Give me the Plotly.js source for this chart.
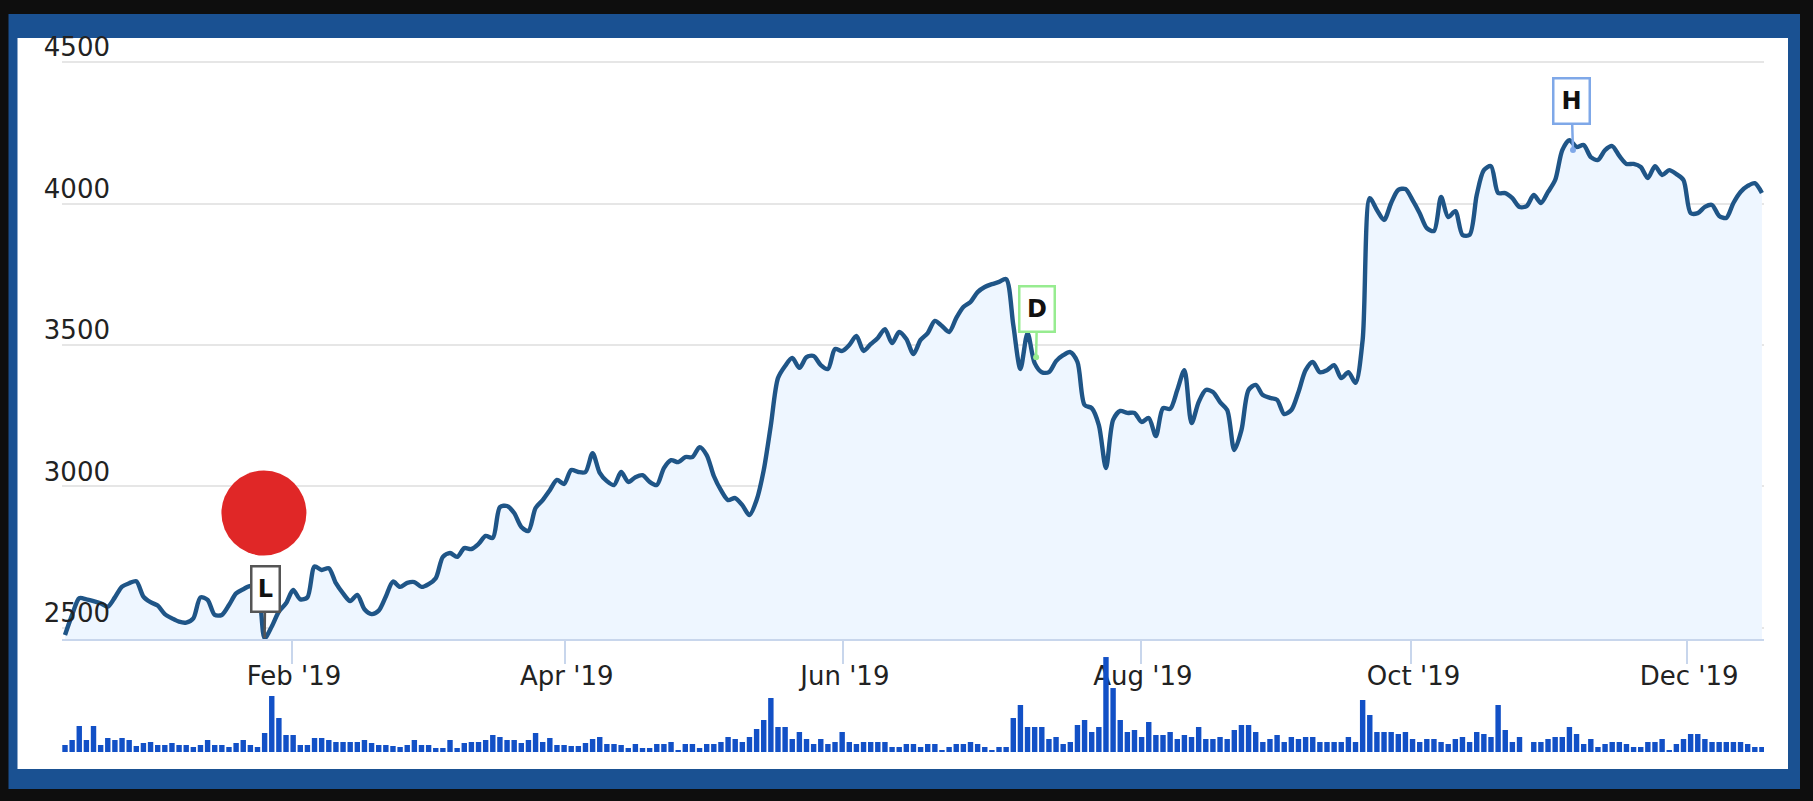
<!DOCTYPE html>
<html>
<head>
<meta charset="utf-8">
<script src="https://cdn.plot.ly/plotly-3.0.1.min.js"></script>
<style>html,body{margin:0;padding:0;background:#0e0e0e;overflow:hidden}#chart{width:1813px;height:801px}</style>
</head>
<body>
<div id="chart"></div>
<script>
// Closing value per trading session
const closeValues = [
2475,2546,2605,2601,2595,2587,2575,2608,2646,2658,2665,2611,2591,2579,2549,2534,2522,2519,2534,2608,2599,2546,2546,2581,2622,2637,2648,2640,2464,2505,2558,2587,2634,2601,2608,2717,2705,2711,2658,2622,2595,2617,2566,2549,2561,2611,2664,
2645,2659,2662,2645,2655,2676,2751,2765,2751,2782,2779,2797,2825,2818,2927,2931,2906,2857,2843,2924,2952,2987,3023,3009,3058,3051,3051,3118,3048,3019,3005,3051,3016,3033,3040,3016,3005,3065,3093,3086,3104,3104,3139,3111,3037,2987,2952,2959,2934,2899,2952,3058,
3217,3383,3426,3454,3419,3457,3461,3429,3415,3486,3479,3500,3532,3479,3503,3525,3556,3507,3546,3521,3468,3518,3542,3585,3567,3546,3595,3634,3652,3687,3705,3715,3723,3733,3571,3415,3542,3436,3404,3404,3443,3464,3475,3440,3288,3277,3217,3065,3235,3267,3260,3260,3228,
3242,3178,3277,3274,3341,3411,3224,3298,3341,3334,3298,3270,3129,3199,3341,3359,3323,3313,3306,3256,3270,3334,3411,3440,3404,3411,3429,3383,3404,3366,3518,
4019,3977,3942,4002,4048,4051,4012,3966,3913,3903,4023,3952,3973,3889,3889,4030,4118,4132,4037,4037,4019,3988,3991,4030,4002,4041,4083,4189,4224,4200,4207,4164,4154,4189,4203,4168,4140,4140,4129,4090,4132,4101,4118,4104,4083,3966,3966,3988,3995,3956,3949,4002,4041,4062,4072,4037
];
// Volume per trading session (relative units)
const volumeValues = [
7,12,26,12,26,7,14,12,14,12,6,9,10,7,7,9,7,7,5,7,12,7,7,5,9,12,7,5,19,56,34,17,17,7,7,14,14,12,10,10,10,10,12,9,7,7,6,5,7,12,7,7,4,4,12,4,9,10,10,12,17,15,12,12,9,12,19,10,14,7,7,6,6,9,
13,15,8,8,7,4,8,4,4,8,8,10,2,8,8,4,8,8,10,15,13,10,15,23,32,54,25,25,13,20,13,8,13,8,10,20,10,8,10,10,10,10,5,5,8,8,5,8,8,2,5,8,8,10,8,5,2,5,5,34,47,25,25,25,13,15,8,10,27,32,20,25,95,
64,32,20,22,15,30,17,17,20,13,17,15,25,
13,13,15,13,22,27,27,20,10,13,17,10,15,13,15,15,10,10,10,10,15,10,52,
37,20,20,20,18,20,13,10,13,13,10,8,13,15,10,20,18,15,47,22,10,15,0,10,10,13,15,15,25,18,8,13,5,8,10,10,8,5,5,10,10,13,2,8,13,18,18,13,10,10,10,10,10,8,5,5,5
];
const monthTickSessions = [31.84, 70.1, 109.1, 150.9, 188.85, 227.5];
const monthTickLabels = ["Feb '19", "Apr '19", "Jun '19", "Aug '19", "Oct '19", "Dec '19"];
const priceTicks = [2500, 3000, 3500, 4000, 4500];
const flagLetters = ["L", "D", "H"];
const flagSessions = [28, 136.2, 211.5];
const flagValues = [2464, 3457, 4189];
const flagColors = ["#555555", "#97ec90", "#7fa8e8"];
const redDotSession = [27.9];
const redDotValue = [2906];

const sessions = closeValues.map((_, i) => i);
const volSessions = volumeValues.map((_, i) => i);

const traces = [
  {type:'bar', x:volSessions, y:volumeValues, xaxis:'x', yaxis:'y2',
   marker:{color:'#1250c6', line:{width:0}}, hoverinfo:'skip'},
  {type:'scatter', mode:'lines', x:sessions, y:closeValues, xaxis:'x', yaxis:'y',
   line:{color:'#1f5587', width:4.4, shape:'spline', smoothing:0.8},
   fill:'tozeroy', fillcolor:'#eef6ff', hoverinfo:'skip'},
  {type:'scatter', mode:'markers', x:redDotSession, y:redDotValue, xaxis:'x', yaxis:'y',
   marker:{color:'#e02727', size:85, line:{width:0}}, hoverinfo:'skip'}
];

// panel rectangles in paper fractions, converted from the page geometry
const W = 1702, H = 714, L = 62, T = 38;
const fx = p => (p - L) / W, fy = p => 1 - (p - T) / H;
const panel = (x0,y0,x1,y1,c) => ({type:'rect', xref:'paper', yref:'paper', layer:'below',
  x0:fx(x0), x1:fx(x1), y0:fy(y1), y1:fy(y0), fillcolor:c, line:{width:0}});

const flagAx = [0.5, 1, -1.5], flagAy = [-49, -48, -49], flagHead = [0, 6, 6], flagW = [26, 33, 34];
const annotations = flagLetters.map((t,i) => ({
  x:flagSessions[i], y:flagValues[i], xref:'x', yref:'y', text:'<b>'+t+'</b>',
  showarrow:true, ax:flagAx[i], ay:flagAy[i], arrowhead:flagHead[i], arrowsize:0.6,
  arrowcolor:flagColors[i], arrowwidth:2.5,
  bordercolor:flagColors[i], borderwidth:2.5, bgcolor:'#ffffff', borderpad:0,
  width:flagW[i], height:43, align:'center', valign:'middle',
  font:{family:'DejaVu Sans', size:24, color:'#111111'}
}));

const layout = {
  width:1813, height:801, autosize:false, showlegend:false,
  margin:{l:62, r:49, t:38, b:49, pad:0},
  paper_bgcolor:'#0e0e0e', plot_bgcolor:'rgba(0,0,0,0)',
  bargap:0.24,
  shapes:[ panel(8.5,14,1800,789,'#1a5192'), panel(17.5,38,1788,769,'#ffffff') ],
  annotations,
  xaxis:{domain:[0,1], anchor:'y', range:[-0.42,238.29], tickmode:'array',
    tickvals:monthTickSessions, ticktext:monthTickLabels, ticks:'outside', ticklen:23, tickwidth:2,
    tickcolor:'#c8d6ec', showline:true, linecolor:'#c8d6ec', linewidth:2.5, showgrid:false, zeroline:false,
    ticklabelstandoff:-11, ticklabelshift:2,
    tickfont:{family:'DejaVu Sans', size:26, color:'#222222'}},
  yaxis:{domain:[0.1583,1], anchor:'x', range:[2461,4585], tickmode:'array', tickvals:priceTicks,
    ticktext:priceTicks.map(String), showgrid:true, gridcolor:'#e6e6e6', gridwidth:2, zeroline:false,
    showline:false, ticks:'', ticklabelstandoff:-49, ticklabelshift:-15,
    tickfont:{family:'DejaVu Sans', size:26, color:'#222222'}},
  yaxis2:{domain:[0,0.133], anchor:'x', range:[0,95], visible:false, fixedrange:true}
};
Plotly.newPlot('chart', traces, layout, {displayModeBar:false, staticPlot:true});
</script>
</body>
</html>
